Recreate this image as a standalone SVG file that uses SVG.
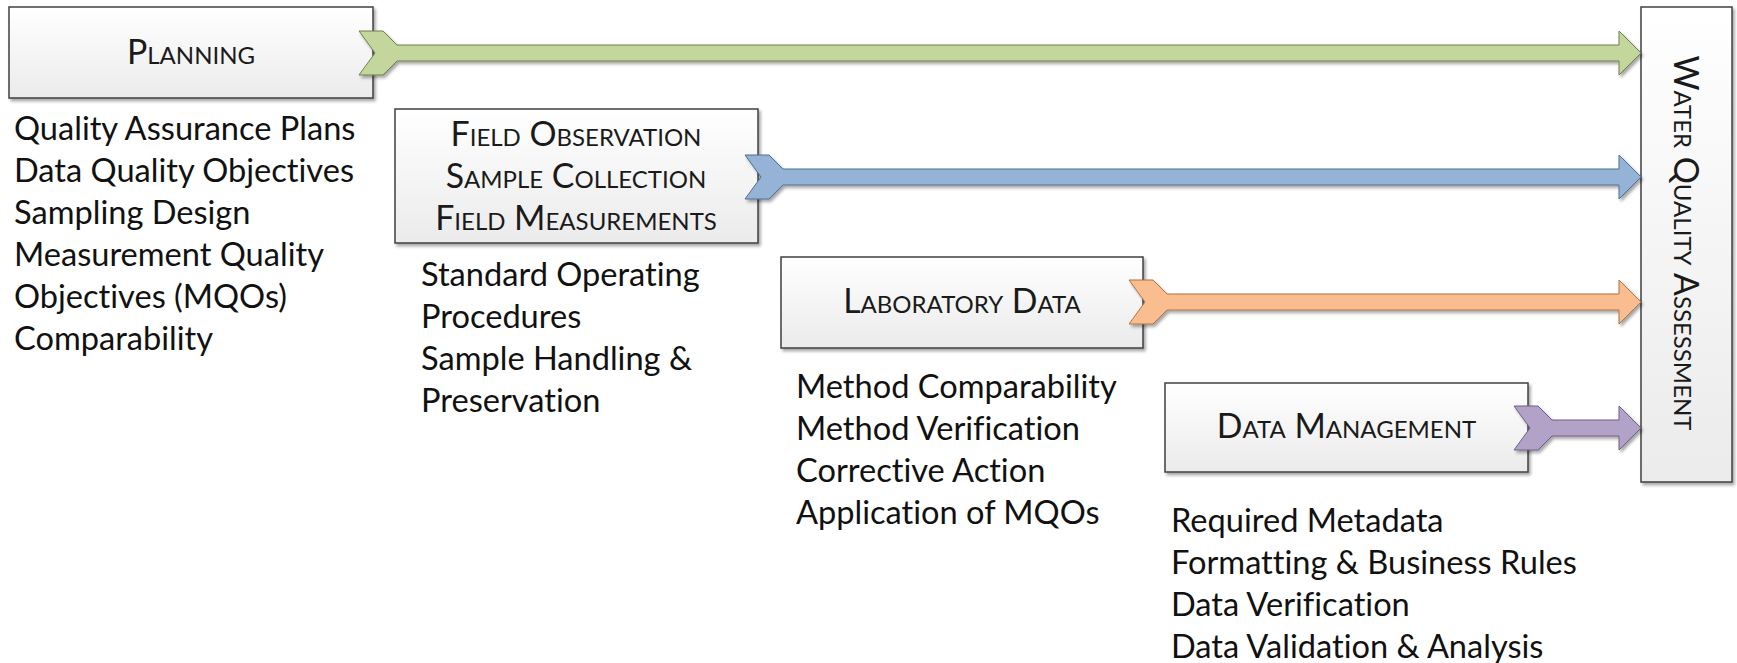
<svg xmlns="http://www.w3.org/2000/svg" width="1737" height="663" viewBox="0 0 1737 663">
<style>
.box{stroke:#404040;stroke-width:1.5;fill:url(#boxg);filter:url(#sh)}
.lbl{font-family:Lato,"Open Sans",sans-serif;font-size:33.8px;font-variant:small-caps;font-variant-ligatures:none;font-feature-settings:"liga" 0,"clig" 0;fill:#1a1a1a;text-anchor:middle}
.body{font-family:Lato,"Open Sans",sans-serif;font-size:32.6px;font-variant-ligatures:none;font-feature-settings:"liga" 0,"clig" 0;fill:#111}
.arr{stroke-width:1;filter:url(#sh)}
</style>
<defs>
<linearGradient id="boxg" x1="0" y1="0" x2="0" y2="1">
<stop offset="0" stop-color="#ffffff"/>
<stop offset="1" stop-color="#ebebeb"/>
</linearGradient>
<filter id="sh" x="-5%" y="-20%" width="115%" height="150%">
<feDropShadow dx="2" dy="2.5" stdDeviation="1.5" flood-color="#000" flood-opacity="0.35"/>
</filter>
</defs>
<g id="planning">
<rect class="box" x="9" y="7" width="364" height="91"/>
<text class="lbl" x="191" y="64">Planning</text>
</g>
<g id="planning-notes">
<text class="body" x="14" y="140">Quality Assurance Plans</text>
<text class="body" x="14" y="182">Data Quality Objectives</text>
<text class="body" x="14" y="224">Sampling Design</text>
<text class="body" x="14" y="266">Measurement Quality</text>
<text class="body" x="14" y="308">Objectives (MQOs)</text>
<text class="body" x="14" y="350">Comparability</text>
</g>
<g id="field">
<rect class="box" x="395" y="109" width="363" height="134"/>
<text class="lbl" x="576" y="146">Field Observation</text>
<text class="lbl" x="576" y="188">Sample Collection</text>
<text class="lbl" x="576" y="230">Field Measurements</text>
</g>
<g id="field-notes">
<text class="body" x="421" y="286">Standard Operating</text>
<text class="body" x="421" y="328">Procedures</text>
<text class="body" x="421" y="370">Sample Handling &amp;</text>
<text class="body" x="421" y="412">Preservation</text>
</g>
<g id="lab">
<rect class="box" x="781" y="257" width="362" height="91"/>
<text class="lbl" x="962" y="313">Laboratory Data</text>
</g>
<g id="lab-notes">
<text class="body" x="796" y="398">Method Comparability</text>
<text class="body" x="796" y="440">Method Verification</text>
<text class="body" x="796" y="482">Corrective Action</text>
<text class="body" x="796" y="524">Application of MQOs</text>
</g>
<g id="datamgmt">
<rect class="box" x="1165" y="383" width="363" height="89"/>
<text class="lbl" x="1346.5" y="438">Data Management</text>
</g>
<g id="datamgmt-notes">
<text class="body" x="1171" y="532">Required Metadata</text>
<text class="body" x="1171" y="574">Formatting &amp; Business Rules</text>
<text class="body" x="1171" y="616">Data Verification</text>
<text class="body" x="1171" y="658">Data Validation &amp; Analysis</text>
</g>
<g id="wqa">
<rect class="box" x="1641" y="7" width="91" height="475"/>
<text class="lbl" transform="translate(1686,243) rotate(90)" x="0" y="12">Water Quality Assessment</text>
</g>
<g id="connectors">
<path class="arr" fill="#c3d69b" stroke="#6f7f4a" d="M359,31 L383,31 L397,45 L1619,45 L1619,31 L1641,53 L1619,75 L1619,61 L397,61 L383,75 L359,75 L375,53 Z"/>
<path class="arr" fill="#95b3d7" stroke="#4f6f95" d="M745,155 L769,155 L783,169 L1619,169 L1619,155 L1641,177 L1619,199 L1619,185 L783,185 L769,199 L745,199 L761,177 Z"/>
<path class="arr" fill="#f9bd8f" stroke="#b0743f" d="M1129,280 L1153,280 L1167,294 L1619,294 L1619,280 L1641,302 L1619,324 L1619,310 L1167,310 L1153,324 L1129,324 L1145,302 Z"/>
<path class="arr" fill="#b3a2c7" stroke="#6e5f88" d="M1514,406 L1538,406 L1552,420 L1619,420 L1619,406 L1641,428 L1619,450 L1619,436 L1552,436 L1538,450 L1514,450 L1530,428 Z"/>
</g>
</svg>
